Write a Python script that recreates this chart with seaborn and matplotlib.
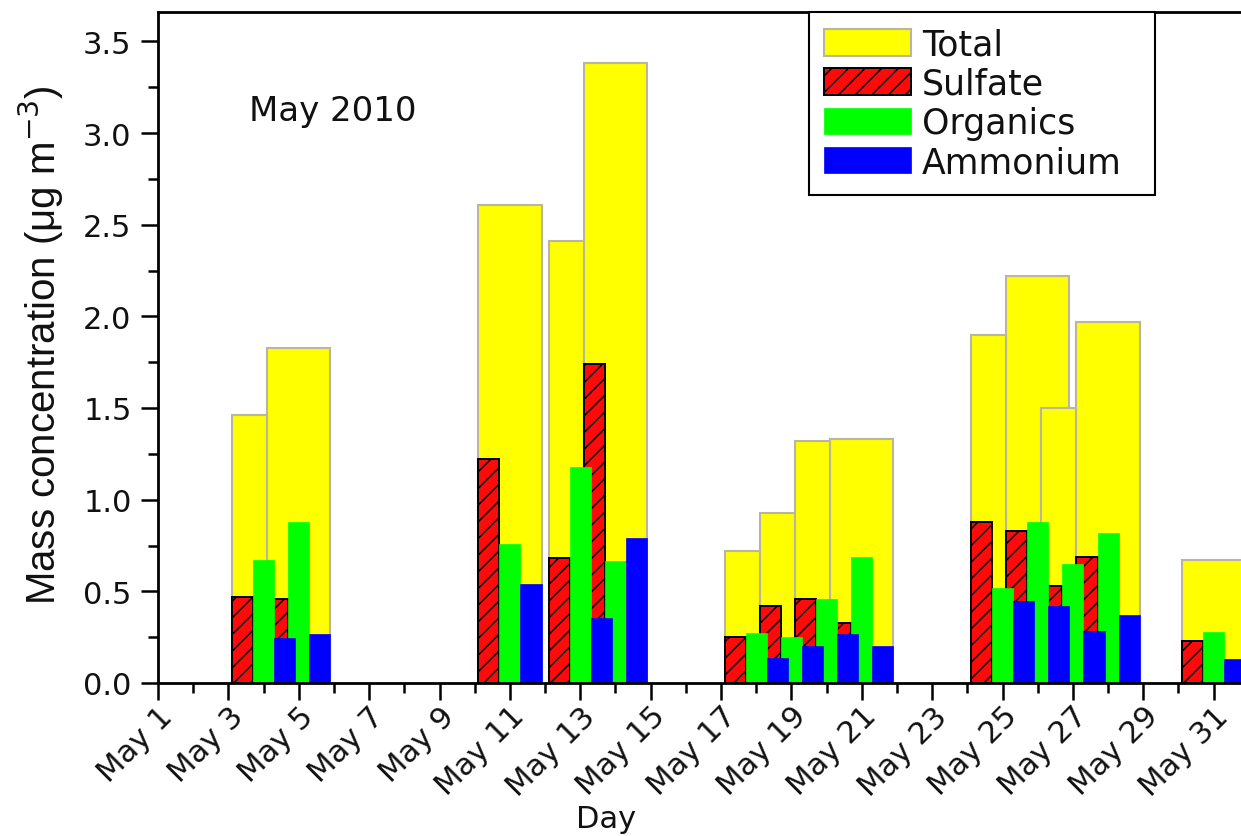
import matplotlib
matplotlib.use("Agg")
import matplotlib.pyplot as plt
import numpy as np
import pandas as pd
import seaborn as sns
from matplotlib.patches import Patch
from matplotlib.ticker import FixedLocator, MultipleLocator, FormatStrFormatter

# Daily mean mass concentrations, May 2010 (ug m-3)
days = [4, 5, 11, 13, 14, 18, 19, 20, 21, 25, 26, 27, 28, 31]
total = [1.46, 1.83, 2.61, 2.41, 3.38, 0.72, 0.93, 1.32, 1.33, 1.90, 2.22, 1.50, 1.97, 0.67]
sulfate = [0.47, 0.46, 1.22, 0.68, 1.74, 0.25, 0.42, 0.46, 0.33, 0.88, 0.83, 0.53, 0.69, 0.23]
organics = [0.67, 0.88, 0.76, 1.18, 0.665, 0.275, 0.25, 0.46, 0.69, 0.52, 0.88, 0.65, 0.82, 0.28]
ammonium = [0.245, 0.265, 0.54, 0.355, 0.79, 0.135, 0.20, 0.265, 0.20, 0.45, 0.42, 0.285, 0.37, 0.13]

tick_days = list(range(1, 33))
major_days = [d for d in tick_days if d % 2 == 1]
major_labels = [f"May {d}" for d in major_days]

sns.set_style("ticks")
plt.rcParams["font.family"] = ["DejaVu Sans"]
plt.rcParams["hatch.linewidth"] = 1.1

fig = plt.figure(figsize=(12.41, 8.37), dpi=100)
ax = fig.add_axes([158 / 1241, 153 / 837, 1126 / 1241, 671 / 837])

df = pd.DataFrame({"day": days, "total": total, "sulfate": sulfate,
                   "organics": organics, "ammonium": ammonium})
w = 0.6  # width of one species bar, in days
df["x_total"] = df["day"].astype(float)
df["x_sulfate"] = df["day"] - w
df["x_organics"] = df["day"].astype(float)
df["x_ammonium"] = df["day"] + w

col_total = "#ffff00"
col_sulfate = "#ff0a0a"
col_organics = "#00ff00"
col_ammonium = "#0000ff"
edge_total = "#bab59e"

sns.barplot(data=df, x="x_total", y="total", native_scale=True, width=3 * w,
            color=col_total, saturation=1, edgecolor=edge_total, linewidth=1.5,
            errorbar=None, ax=ax)
sns.barplot(data=df, x="x_sulfate", y="sulfate", native_scale=True, width=w,
            color=col_sulfate, saturation=1, edgecolor="black", linewidth=1.4,
            hatch="//", errorbar=None, ax=ax)
sns.barplot(data=df, x="x_organics", y="organics", native_scale=True, width=w,
            color=col_organics, saturation=1, edgecolor=col_organics, linewidth=0.5,
            errorbar=None, ax=ax)
sns.barplot(data=df, x="x_ammonium", y="ammonium", native_scale=True, width=w,
            color=col_ammonium, saturation=1, edgecolor=col_ammonium, linewidth=0.5,
            errorbar=None, ax=ax)

ax.set_xlim(1, 33)
ax.set_ylim(0, 3.66)

ax.xaxis.set_major_locator(FixedLocator(major_days))
ax.xaxis.set_minor_locator(FixedLocator([d for d in tick_days if d % 2 == 0]))
ax.set_xticklabels(major_labels, rotation=45, ha="right", va="top",
                   rotation_mode="anchor")
ax.yaxis.set_major_locator(MultipleLocator(0.5))
ax.yaxis.set_minor_locator(MultipleLocator(0.25))
ax.yaxis.set_major_formatter(FormatStrFormatter("%.1f"))

ax.tick_params(axis="both", which="major", direction="out", length=12, width=1.8,
               color="black", labelcolor="#111111")
ax.tick_params(axis="both", which="minor", direction="out", length=7, width=1.8,
               color="black")
ax.tick_params(axis="x", which="major", pad=1, labelsize=22)
ax.tick_params(axis="y", which="major", pad=7, labelsize=22)

for side in ["left", "bottom", "top", "right"]:
    ax.spines[side].set_linewidth(2.0)
    ax.spines[side].set_color("black")

ax.set_xlabel("Day", fontsize=22, color="#111111")
ax.xaxis.set_label_coords(0.398, -0.18)
ax.set_ylabel("Mass concentration (μg m$^{-3}$)", fontsize=29, color="#111111",
              family=["Liberation Sans Narrow", "Liberation Sans", "DejaVu Sans"])
ax.yaxis.set_label_coords(-0.082, 0.505)

ax.text(3.6, 3.12, "May 2010", fontsize=24.5, color="#111111", va="center", ha="left")

handles = [
    Patch(facecolor=col_total, edgecolor=edge_total, linewidth=1.5, label="Total"),
    Patch(facecolor=col_sulfate, edgecolor="black", linewidth=1.4, hatch="//", label="Sulfate"),
    Patch(facecolor=col_organics, edgecolor=col_organics, linewidth=0.5, label="Organics"),
    Patch(facecolor=col_ammonium, edgecolor=col_ammonium, linewidth=0.5, label="Ammonium"),
]
leg = ax.legend(handles=handles, loc="upper left",
                bbox_to_anchor=(0.578, 0.733, 0.307, 0.267), mode="expand",
                borderaxespad=0, fontsize=25, frameon=True, fancybox=False,
                framealpha=1, edgecolor="black", handlelength=2.5, handleheight=0.8,
                handletextpad=0.3, labelspacing=0.15, borderpad=0.45)
leg.get_frame().set_linewidth(1.5)
for t in leg.get_texts():
    t.set_color("#111111")

fig.savefig("out.png", dpi=100)
